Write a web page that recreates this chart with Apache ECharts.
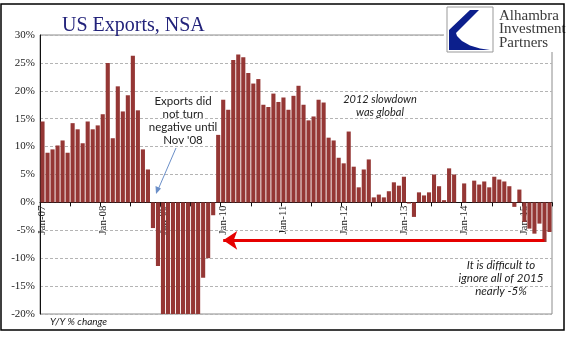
<!DOCTYPE html>
<html><head><meta charset="utf-8">
<script src="https://cdn.jsdelivr.net/npm/echarts@6/dist/echarts.min.js"></script>
<style>html,body{margin:0;padding:0;background:#fff}#c{width:577px;height:341px}</style>
</head><body><div id="c"></div>
<script>
var years = ['07','08','09','10','11','12','13','14','15'];
var months = ['Jan','Feb','Mar','Apr','May','Jun','Jul','Aug','Sep','Oct','Nov','Dec'];
var categories = [];
years.forEach(function(y, yi){ months.forEach(function(m, mi){ if (yi < 8 || mi < 6) categories.push(m + '-' + y); }); });

var v2007 = [14.5, 8.9, 9.5, 10.2, 11.1, 8.9, 14.2, 13.1, 10.6, 14.5, 13.1, 13.8];
var v2008 = [15.8, 25.0, 11.5, 20.8, 16.3, 19.2, 26.3, 16.5, 9.5, 5.9, -4.6, -11.4];
var v2009 = [-22, -25, -21, -28, -27, -27, -24, -22, -13.5, -10.0, -2.3, 12.1];
var v2010 = [18.4, 16.6, 25.5, 26.5, 26.0, 23.2, 21.3, 22.1, 17.5, 17.1, 19.5, 18.0];
var v2011 = [18.8, 16.6, 19.1, 20.9, 17.5, 14.7, 15.4, 18.4, 17.9, 11.6, 11.1, 8.0];
var v2012 = [7.0, 12.7, 6.4, 2.7, 5.9, 7.7, 0.9, 1.4, 0.9, 2.0, 3.6, 3.0];
var v2013 = [4.6, -0.2, -2.6, 1.8, 1.25, 1.8, 5.0, 2.9, 0.4, 6.1, 5.0, 0.0];
var v2014 = [3.4, 0.0, 3.9, 3.2, 3.75, 2.7, 4.6, 4.1, 3.75, 2.9, -0.8, 2.3];
var v2015 = [-3.5, -4.7, -5.6, -3.8, -7.1, -5.3];
var values = [].concat(v2007, v2008, v2009, v2010, v2011, v2012, v2013, v2014, v2015);

var yMin = -20, yMax = 30, yStep = 5;
var arrowLevel = -6.8;

var serif = '"Liberation Serif", "DejaVu Serif", serif';
var sans = 'Lato, "Open Sans", sans-serif';

var W = 577, H = 341;
var gridL = 40, gridR = 25, gridT = 35, gridB = 27;
var plotH = H - gridT - gridB;
var zeroOffset = -plotH * (0 - yMin) / (yMax - yMin);

var chart = echarts.init(document.getElementById('c'), null, {renderer: 'canvas'});
chart.setOption({
  animation: false,
  backgroundColor: '#fff',
  title: {
    text: 'US Exports, NSA', left: 57, top: 11,
    textStyle: {fontFamily: serif, fontSize: 20, fontWeight: 'normal', color: '#22227a'}
  },
  grid: {left: gridL, right: gridR, top: gridT, bottom: gridB, containLabel: false, outerBoundsMode: 'none',
    show: true, borderColor: '#8c8c8c', borderWidth: 1},
  xAxis: {
    type: 'category', data: categories, boundaryGap: true, offset: zeroOffset,
    axisLine: {onZero: false, lineStyle: {color: '#111', width: 1}},
    axisTick: {show: true, interval: function(i){ return i % 6 === 0; }, length: 4, lineStyle: {color: '#111'}},
    axisLabel: {interval: function(i){ return i % 12 === 0; }, rotate: 90, margin: 3,
      fontFamily: serif, fontSize: 11, color: '#222'},
    splitLine: {show: false}
  },
  yAxis: {
    type: 'value', min: yMin, max: yMax, interval: yStep,
    axisLine: {show: true, lineStyle: {color: '#111'}},
    axisTick: {show: false},
    axisLabel: {formatter: '{value}%', fontFamily: serif, fontSize: 11, color: '#222', margin: 5},
    splitLine: {show: true, lineStyle: {color: '#b4b4b4', type: [3, 2], width: 1}}
  },
  series: [{
    type: 'bar', data: values, barCategoryGap: '18%', clip: true,
    itemStyle: {color: '#953735'},
    markLine: {
      silent: true, symbol: ['none', 'arrow'], symbolSize: [14, 14],
      label: {show: false},
      lineStyle: {color: '#e60000', width: 3, type: 'solid'},
      data: [[{coord: ['May-15', arrowLevel]}, {coord: ['Jan-10', arrowLevel]}]]
    }
  }],
  graphic: [
    {type: 'rect', shape: {x: 444, y: 0, width: 133, height: 52}, style: {fill: '#fff'}, z: 50},
    {type: 'rect', shape: {x: 447, y: 7, width: 46, height: 45}, style: {fill: '#fff', stroke: '#999', lineWidth: 1}, z: 51},
    {type: 'polygon', shape: {points: [[449, 50], [490, 50], [480, 48.5], [470, 45.5], [462, 41], [457, 36], [456, 33], [479, 10], [470, 10], [449, 30]]}, style: {fill: '#0c1f8c'}, z: 52},
    {type: 'text', z: 52, style: {x: 499, y: 9, text: 'Alhambra\nInvestment\nPartners', fontFamily: serif, fontSize: 15, lineHeight: 13.5, fill: '#3a3a3a'}},
    {type: 'text', z: 52, style: {x: 183, y: 95, text: 'Exports did\nnot turn\nnegative until\nNov \'08', align: 'center', fontFamily: sans, fontSize: 11.5, lineHeight: 13, fill: '#222'}},
    {type: 'line', shape: {x1: 176, y1: 148, x2: 157, y2: 192}, style: {stroke: '#6b8fc8', lineWidth: 1}, z: 52},
    {type: 'polygon', shape: {points: [[156, 194], [155.5, 186], [161, 188.5]]}, style: {fill: '#6b8fc8'}, z: 52},
    {type: 'text', z: 52, style: {x: 380, y: 93, text: '2012 slowdown\nwas global', align: 'center', fontFamily: sans, fontStyle: 'italic', fontSize: 11, lineHeight: 13, fill: '#222'}},
    {type: 'text', z: 52, style: {x: 501, y: 259, text: 'It is difficult to\nignore all of 2015\nnearly -5%', align: 'center', fontFamily: sans, fontStyle: 'italic', fontSize: 11.5, lineHeight: 13, fill: '#222'}},
    {type: 'text', z: 52, style: {x: 50, y: 317, text: 'Y/Y % change', fontFamily: sans, fontStyle: 'italic', fontSize: 10, fill: '#222'}},
    {type: 'rect', shape: {x: 1, y: 4, width: 563, height: 326}, style: {fill: 'none', stroke: '#000', lineWidth: 1.5}, z: 60}
  ]
});
</script></body></html>
